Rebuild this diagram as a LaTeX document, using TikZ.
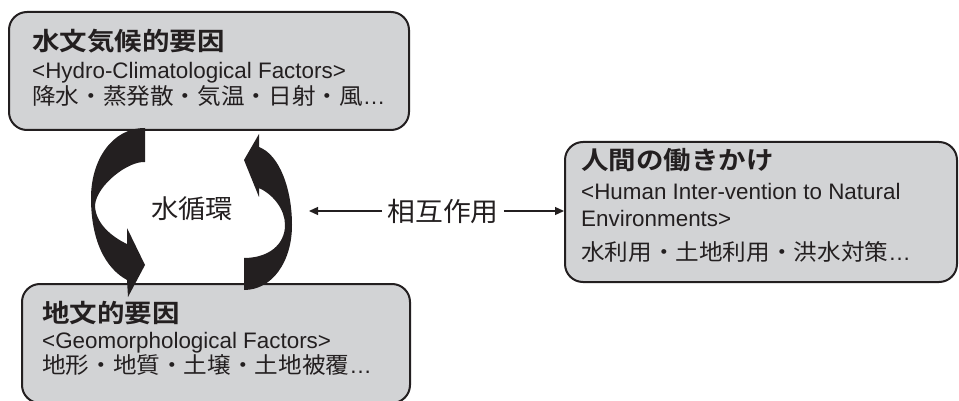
\documentclass[tikz,border=0pt]{standalone}
\usepackage{fontspec}
\setmainfont{Liberation Sans}
\newfontfamily\jp{Noto Sans CJK JP}[FakeStretch=1.05]
\newfontfamily\jpb{Noto Sans CJK JP Bold}[FakeStretch=1.1]
\usetikzlibrary{arrows.meta}
\definecolor{ink}{RGB}{35,31,32}
\definecolor{boxgray}{RGB}{210,211,213}
\tikzset{
  factorbox/.style={draw=ink, line width=2pt, fill=boxgray, rounded corners=18pt, rectangle, inner sep=0pt},
  txt/.style={anchor=base west, inner sep=0pt, text=ink},
  titletxt/.style={txt, font=\jpb\fontsize{25}{28}\selectfont},
  engtxt/.style={txt, font=\fontsize{22.4}{26}\selectfont},
  jptxt/.style={txt, font=\jp\fontsize{22.5}{26}\selectfont},
  cyclearrow/.style={fill=ink, draw=none},
  link/.style={draw=ink, line width=1.3pt, -{Triangle[length=9pt,width=8pt]}},
}
\begin{document}
\begin{tikzpicture}[x=1pt,y=-1pt]
\useasboundingbox (0,0) rectangle (959,401);
\clip (0,0) rectangle (959,401);
% boxes
\node[factorbox, minimum width=400pt, minimum height=118pt] (hydro) at (209,71) {};
\node[factorbox, minimum width=388pt, minimum height=119pt] (geo) at (216,343.5) {};
\node[factorbox, minimum width=392pt, minimum height=140pt] (human) at (761,212) {};
% hydro texts
\node[titletxt] (hydroT) at (32,51) {水文気候的要因};
\node[engtxt] (hydroE) at (32,79) {<Hydro-Climatological Factors>};
\node[jptxt] (hydroJ) at (32,105) {降水・蒸発散・気温・日射・風\rmfamily …};
% geo texts
\node[titletxt] (geoT) at (42,322) {地文的要因};
\node[engtxt] (geoE) at (42,348) {<Geomorphological Factors>};
\node[jptxt] (geoJ) at (42,373) {地形・地質・土壌・土地被覆\rmfamily …};
% human texts
\node[titletxt] (humanT) at (581,170) {人間の働きかけ};
\node[engtxt] (humanE1) at (581,200) {<Human Inter-vention to Natural};
\node[engtxt] (humanE2) at (581,226) {Environments>};
\node[jptxt] (humanJ) at (581,260) {水利用・土地利用・洪水対策\rmfamily …};
% cycle arrows
\fill[cyclearrow] (145,128) .. controls (112,128) and (91,160) .. (91,198)
  .. controls (91,240) and (105,268) .. (127,280) -- (128,297) -- (145,265) -- (127,228) -- (127,244)
  .. controls (110,236) and (95,222) .. (95,205)
  .. controls (97,185) and (128,161) .. (145,162) -- cycle;
\fill[cyclearrow] (259,134) -- (259,147) .. controls (280,155) and (292,190) .. (292,225)
  .. controls (292,262) and (272,290) .. (244,290) -- (244,258)
  .. controls (268,258) and (285,245) .. (285,225)
  .. controls (285,210) and (274,195) .. (259,188) -- (259,197) -- (244,160) -- cycle;
\node[text=ink, font=\jp\fontsize{26}{28}\selectfont, inner sep=0pt] (cycle) at (192,209) {水循環};
% interaction
\node[text=ink, font=\jp\fontsize{26.5}{28}\selectfont, inner sep=5pt] (mid) at (443,211) {相互作用};
\coordinate (lefttip) at (309,211);
\draw[link] (mid.west) -- (lefttip);
\draw[link] (mid.east) -- (mid.east -| human.west);
\end{tikzpicture}
\end{document}
